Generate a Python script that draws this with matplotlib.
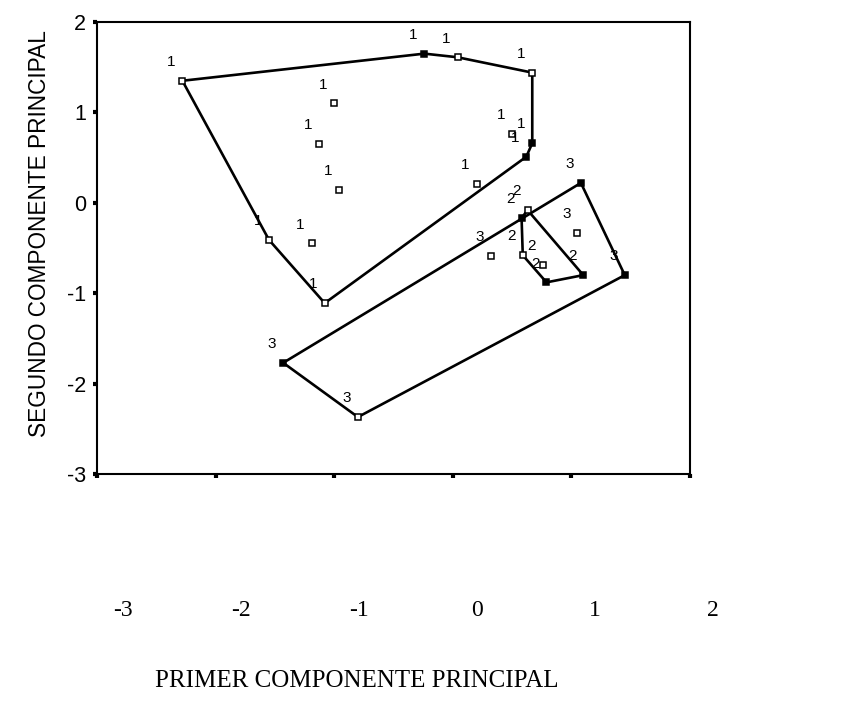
import numpy as np
import matplotlib
matplotlib.use("Agg")
import matplotlib.pyplot as plt

# Principal component scores for the three groups
g1_x = [-2.28, -1.00, -1.13, -0.96, -1.19, -1.55, -1.08, -0.24, 0.04, 0.67, 0.50, 0.67, 0.62, 0.20]
g1_y = [1.35, 1.10, 0.65, 0.14, -0.45, -0.41, -1.11, 1.65, 1.61, 1.44, 0.76, 0.66, 0.51, 0.21]
g1_filled = [False, False, False, False, False, False, False, True, False, False, False, True, True, False]

g2_x = [0.63, 0.58, 0.59, 0.76, 0.79, 1.10]
g2_y = [-0.08, -0.17, -0.58, -0.69, -0.88, -0.80]
g2_filled = [False, True, False, False, True, True]

g3_x = [-1.43, -0.80, 0.32, 1.05, 1.08, 1.45]
g3_y = [-1.77, -2.37, -0.59, -0.33, 0.22, -0.80]
g3_filled = [True, False, False, False, True, True]

group_labels = ["1", "2", "3"]
x_ticks = [-3, -2, -1, 0, 1, 2]
y_ticks = [-3, -2, -1, 0, 1, 2]


def convex_hull(xs, ys):
    pts = sorted(set(zip(xs, ys)))

    def cross(o, a, b):
        return (a[0] - o[0]) * (b[1] - o[1]) - (a[1] - o[1]) * (b[0] - o[0])

    lower, upper = [], []
    for p in pts:
        while len(lower) >= 2 and cross(lower[-2], lower[-1], p) <= 0:
            lower.pop()
        lower.append(p)
    for p in reversed(pts):
        while len(upper) >= 2 and cross(upper[-2], upper[-1], p) <= 0:
            upper.pop()
        upper.append(p)
    hull = lower[:-1] + upper[:-1]
    hull.append(hull[0])
    return [p[0] for p in hull], [p[1] for p in hull]


W, H = 860, 715
fig = plt.figure(figsize=(W / 100, H / 100), dpi=100)
ax = fig.add_axes([97 / W, 1 - 474 / H, (690 - 97) / W, (474 - 22) / H])

sans = "Liberation Sans"
serif = "Liberation Serif"

groups = [(g1_x, g1_y, g1_filled), (g2_x, g2_y, g2_filled), (g3_x, g3_y, g3_filled)]
for (gx, gy, gf), lab in zip(groups, group_labels):
    hx, hy = convex_hull(gx, gy)
    ax.plot(hx, hy, color="black", lw=1.9, solid_joinstyle="round", zorder=2)
    for x, y, f in zip(gx, gy, gf):
        ax.plot(x, y, marker="s", ms=4.6, mec="black", mew=1.1,
                mfc="black" if f else "white", zorder=3)
        ax.annotate(lab, (x, y), xytext=(-8, 13.5), textcoords="offset points",
                    ha="center", va="center", fontsize=11, family=sans, zorder=4)

ax.set_xlim(-3, 2)
ax.set_ylim(-3, 2)
ax.set_xticks(x_ticks)
ax.set_yticks(y_ticks)
ax.set_xticklabels([])
ax.set_yticklabels([str(v) for v in y_ticks], family=sans, fontsize=15.5)
ax.tick_params(axis="both", direction="out", length=3, width=3, color="black", pad=5)
for s in ax.spines.values():
    s.set_linewidth(1.5)

ax.set_ylabel("SEGUNDO COMPONENTE PRINCIPAL", family=sans, fontsize=16.3)
ax.yaxis.set_label_coords((40 - 97) / (690 - 97), (474 - 234) / (474 - 22))
ax.yaxis.label.set_va("center")

# x tick labels and axis title set well below the frame
for v in x_ticks:
    px = 123 + (v - x_ticks[0]) * 118.0
    fig.text(px / W, 1 - 610 / H, str(v), ha="center", va="center",
             family=serif, fontsize=17)
fig.text(357 / W, 1 - 681 / H, "PRIMER COMPONENTE PRINCIPAL", ha="center",
         va="center", family=serif, fontsize=18)

fig.savefig("out.png", dpi=100, facecolor="white")
